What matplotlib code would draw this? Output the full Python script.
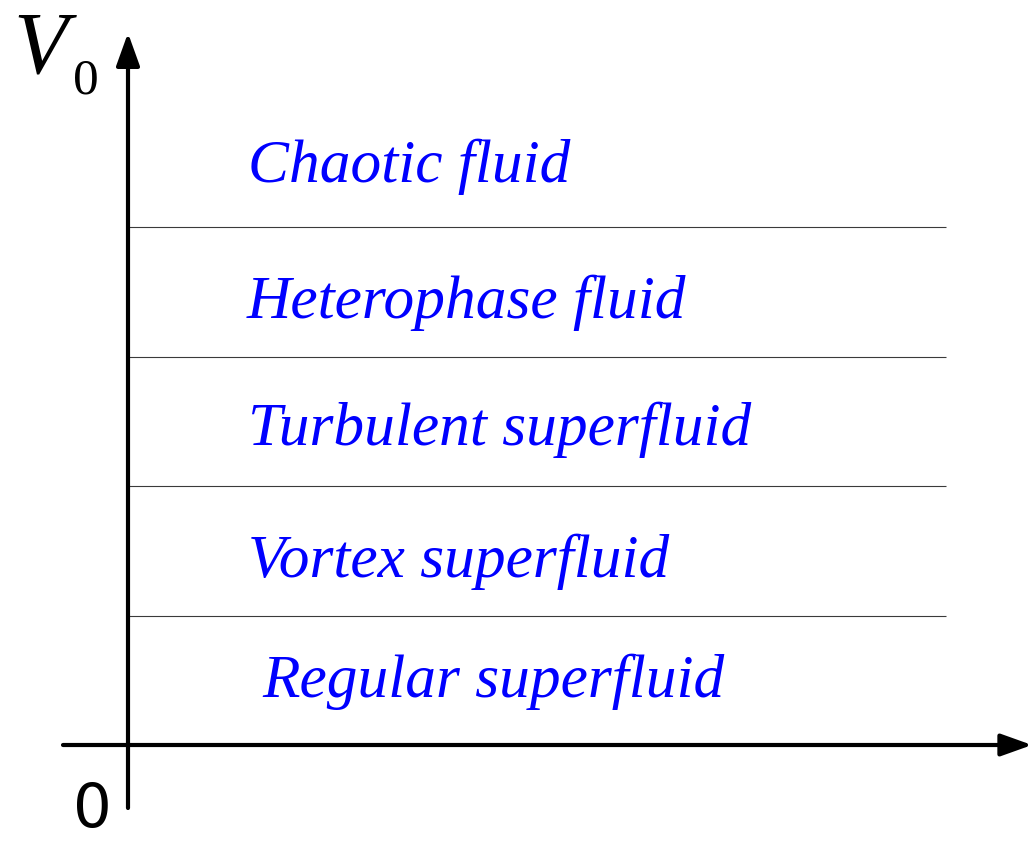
import matplotlib
matplotlib.use("Agg")
import matplotlib.pyplot as plt

# Phase names (bottom to top) and their label positions (in V0 level units)
phases = ["Regular superfluid", "Vortex superfluid", "Turbulent superfluid",
          "Heterophase fluid", "Chaotic fluid"]
label_x = [0.164, 0.147, 0.147, 0.145, 0.147]
label_y = [0.371, 1.297, 2.317, 3.297, 4.35]
# Phase boundaries
boundaries = [1, 2, 3, 4]
boundary_end = 1.0

W, H = 1028, 841
fig = plt.figure(figsize=(W / 100, H / 100), dpi=100)
ax = fig.add_axes([0, 0, 1, 1])
px_x = 818.0
px_y = 129.4
ax.set_xlim(-128 / px_x, (W - 128) / px_x)
ax.set_ylim((745 - H) / px_y, 745 / px_y)
ax.axis("off")

# boundaries
for b in boundaries:
    ax.plot([0, boundary_end], [b, b], color="#3a3a3a", lw=0.8,
            solid_capstyle="butt")

# axes with arrows
x_start, x_end = -65 / px_x, (W + 4 - 128) / px_x
y_start, y_end = (745 - 808) / px_y, (745 - 33) / px_y
ax.annotate("", xy=(x_end, 0), xytext=(x_start, 0), annotation_clip=False,
            arrowprops=dict(arrowstyle="-|>,head_length=0.95,head_width=0.34",
                            mutation_scale=20, lw=3, color="black",
                            shrinkA=0, shrinkB=0))
ax.annotate("", xy=(0, y_end), xytext=(0, y_start), annotation_clip=False,
            arrowprops=dict(arrowstyle="-|>,head_length=1.0,head_width=0.36",
                            mutation_scale=20, lw=3, color="black",
                            shrinkA=0, shrinkB=0))

# labels
for name, xx, yy in zip(phases, label_x, label_y):
    ax.text(xx, yy, name, color="#0000ff", fontsize=44.2,
            family="Liberation Serif", style="italic",
            ha="left", va="baseline")

# axis labels
ax.text(-115 / px_x, (745 - 72) / px_y, "V", fontsize=64,
        family="Liberation Serif", style="italic", ha="left", va="baseline")
ax.text(-55 / px_x, (745 - 93) / px_y, "0", fontsize=37,
        family="Liberation Serif", ha="left", va="baseline")
ax.text(-55 / px_x, (745 - 827) / px_y, "0", fontsize=44,
        family="DejaVu Sans", ha="left", va="baseline")

fig.savefig("out.png", dpi=100)
